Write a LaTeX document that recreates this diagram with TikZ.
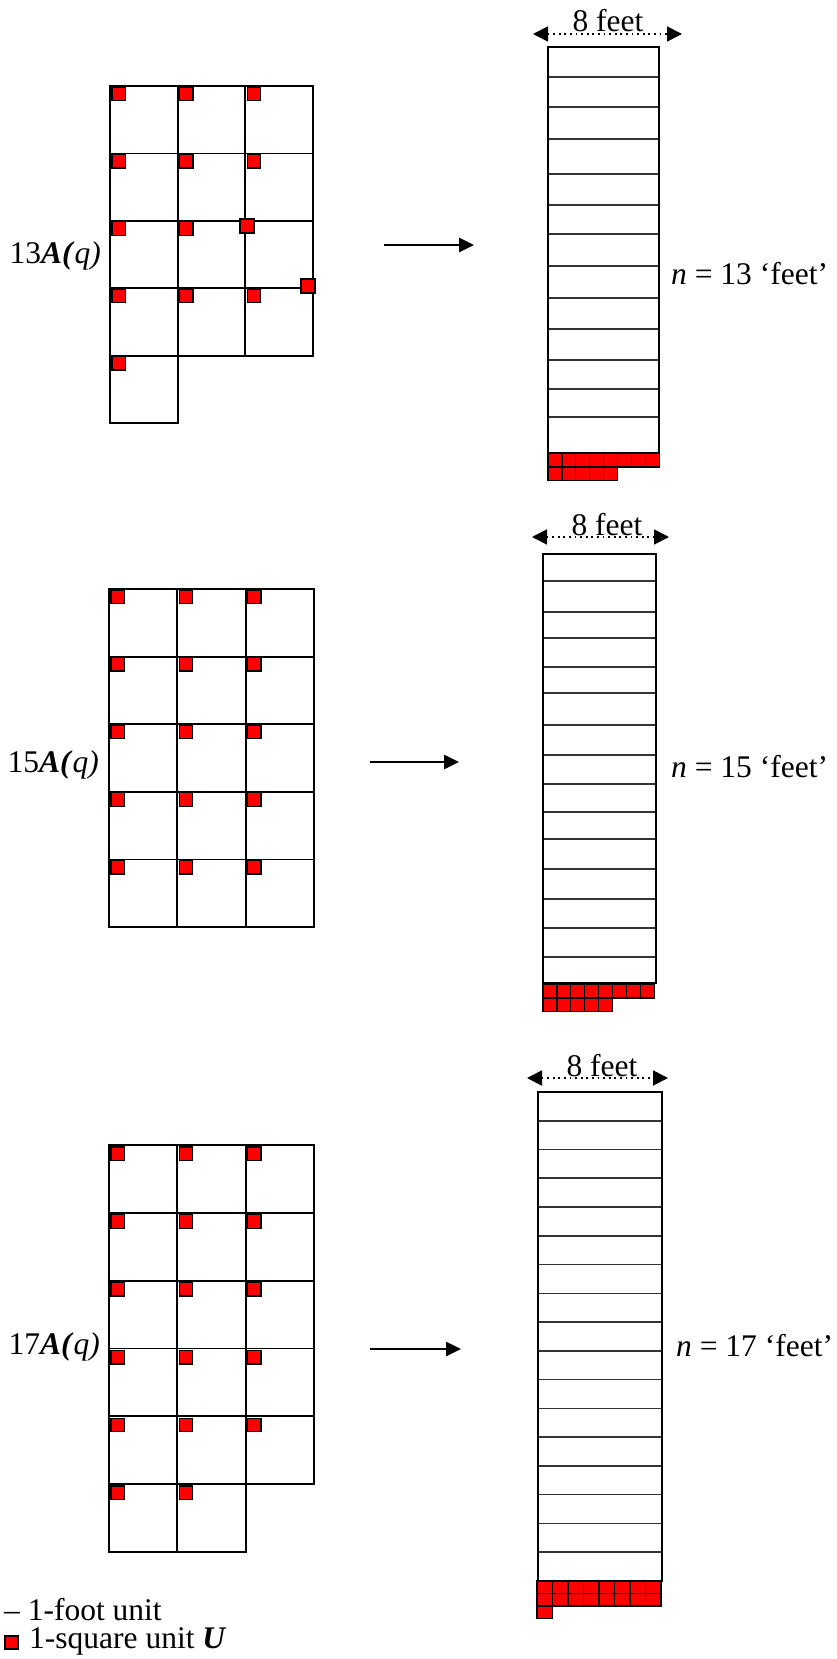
\documentclass[tikz,border=0pt]{standalone}
\usepackage{fontspec}
\setmainfont{Liberation Serif}
\usepackage{tikz}
\usetikzlibrary{arrows.meta}

\begin{document}
\begin{tikzpicture}[
    x=1pt, y=-1pt,
    cell/.style={draw, line width=1.8pt},
    unit sq/.style={draw, line width=1.3pt, fill=red},
    strip/.style={draw, line width=2.8pt},
    foot line/.style={line width=1.6pt, black!80},
    map arrow/.style={-{Triangle[length=15pt, width=14pt]}, line width=2.6pt},
    width arrow/.style={{Triangle[length=15pt, width=15pt]}-{Triangle[length=15pt, width=15pt]}, line width=1.8pt, dash pattern=on 1.8pt off 3.8pt},
    big text/.style={font=\fontsize{31.5}{36}\selectfont, inner sep=0pt},
    ]

    \useasboundingbox (0,0) rectangle (837,1659);

    % 13 A(q)
    \foreach \r/\c in {0/0,0/1,0/2,1/0,1/1,1/2,2/0,2/1,2/2,3/0,3/1,3/2,4/0}
        \draw[cell] ({110+\c*67.6},{86+\r*67.4}) rectangle ++(67.6,67.4);
    \foreach \r/\c in {0/0,0/1,0/2,1/0,1/1,1/2,2/0,2/1,3/0,3/1,3/2,4/0}
        \draw[unit sq] ({112+\c*67.6},{87+\r*67.4}) rectangle ++(13.5,13.5);
    \draw[unit sq] (240,219) rectangle ++(14,14);
    \draw[unit sq] (301,279) rectangle ++(14,14);
    \node[big text, anchor=base east] (lbl13) at (101,263) {13\textbf{\textit{A(}}\textit{q)}};

    \coordinate (arr13a) at (384,245);
    \coordinate (arr13b) at (474,245);
    \draw[map arrow] (arr13a) -- (arr13b);

    \foreach \y in {77,107,139,174,205,234,266,298,329,360,389,417}
        \draw[foot line] (548,\y) -- (659,\y);
    \draw[strip] (548,47) rectangle (659,453);
    \foreach \i in {0,...,7}
        \draw[unit sq] ({548+\i*13.9},453) rectangle ++(13.9,13.9);
    \foreach \i in {0,...,4}
        \draw[unit sq] ({548+\i*13.9},466.9) rectangle ++(13.9,13.9);

    \coordinate (wid13a) at (533,34);
    \coordinate (wid13b) at (682,34);
    \draw[width arrow] (wid13a) -- (wid13b);
    \node[big text, anchor=base] (wid13) at (608,32) {8 feet};
    \node[big text, anchor=base west] (feet13) at (671,284) {\textit{n} = 13 ‘feet’};

    % 15 A(q)
    \foreach \r in {0,...,4}
        \foreach \c in {0,1,2} {
            \draw[cell] ({109+\c*68.3},{589+\r*67.6}) rectangle ++(68.3,67.6);
            \draw[unit sq] ({111+\c*68.3},{590+\r*67.6}) rectangle ++(13.5,13.5);
        }
    \node[big text, anchor=base east] (lbl15) at (99,772) {15\textbf{\textit{A(}}\textit{q)}};

    \coordinate (arr15a) at (370,762);
    \coordinate (arr15b) at (459,762);
    \draw[map arrow] (arr15a) -- (arr15b);

    \foreach \y in {581,612,638,667,693,725,755,784,812,839,869,899,928,957}
        \draw[foot line] (543,\y) -- (656,\y);
    \draw[strip] (543,554) rectangle (656,983);
    \foreach \i in {0,...,7}
        \draw[unit sq] ({543+\i*13.9},984) rectangle ++(13.9,13.9);
    \foreach \i in {0,...,4}
        \draw[unit sq] ({543+\i*13.9},997.9) rectangle ++(13.9,13.9);

    \coordinate (wid15a) at (532,537);
    \coordinate (wid15b) at (669,537);
    \draw[width arrow] (wid15a) -- (wid15b);
    \node[big text, anchor=base] (wid15) at (607,535) {8 feet};
    \node[big text, anchor=base west] (feet15) at (671,777) {\textit{n} = 15 ‘feet’};

    % 17 A(q)
    \foreach \r/\c in {0/0,0/1,0/2,1/0,1/1,1/2,2/0,2/1,2/2,3/0,3/1,3/2,4/0,4/1,4/2,5/0,5/1} {
        \draw[cell] ({109+\c*68.3},{1145+\r*67.8}) rectangle ++(68.3,67.8);
        \draw[unit sq] ({111+\c*68.3},{1147+\r*67.8}) rectangle ++(13.5,13.5);
    }
    \node[big text, anchor=base east] (lbl17) at (100,1354) {17\textbf{\textit{A(}}\textit{q)}};

    \coordinate (arr17a) at (370,1349);
    \coordinate (arr17b) at (461,1349);
    \draw[map arrow] (arr17a) -- (arr17b);

    \foreach \i in {1,...,16}
        \draw[foot line] (538,{1092+\i*28.76}) -- (662,{1092+\i*28.76});
    \draw[strip] (538,1092) rectangle (662,1581);
    \foreach \i in {0,...,7} {
        \draw[unit sq] ({537+\i*15.5},1581) rectangle ++(15.5,12.5);
        \draw[unit sq] ({537+\i*15.5},1593.5) rectangle ++(15.5,12.5);
    }
    \draw[unit sq] (537,1606) rectangle ++(15.5,12.5);

    \coordinate (wid17a) at (527,1078);
    \coordinate (wid17b) at (668,1078);
    \draw[width arrow] (wid17a) -- (wid17b);
    \node[big text, anchor=base] (wid17) at (602,1076) {8 feet};
    \node[big text, anchor=base west] (feet17) at (676,1356) {\textit{n} = 17 ‘feet’};

    % legend
    \node[big text, anchor=base west] (legfoot) at (4,1620) {– 1-foot unit};
    \draw[unit sq] (5,1636) rectangle ++(13,13);
    \node[big text, anchor=base west] (legsq) at (29,1648) {1-square unit \textbf{\textit{U}}};

\end{tikzpicture}
\end{document}
